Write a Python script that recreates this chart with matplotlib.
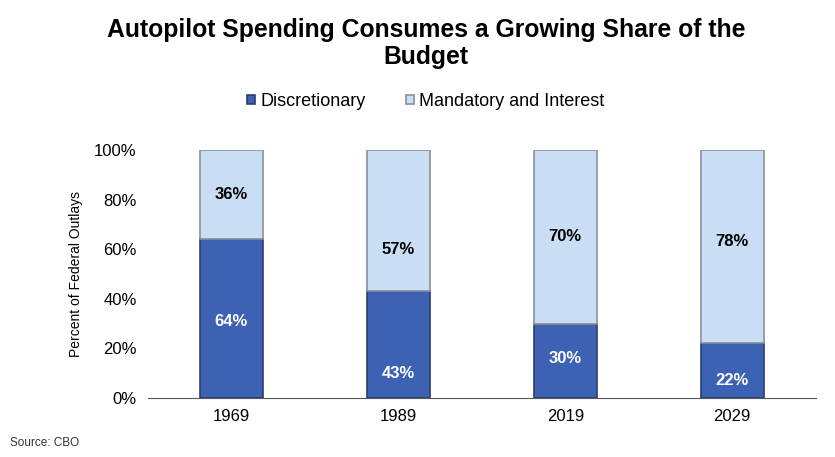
import matplotlib
matplotlib.use("Agg")
import matplotlib.pyplot as plt
import numpy as np

plt.rcParams["font.family"] = ["Liberation Sans", "DejaVu Sans"]

years = ["1969", "1989", "2019", "2029"]
discretionary = [64, 43, 30, 22]
mandatory = [36, 57, 70, 78]
# where the labels sit in the picture (percent units)
disc_label_y = [31, 10, 16, 7]
mand_label_y = [82, 60, 65, 63]

dark = "#3d62b3"
light = "#c9def4"

fig = plt.figure(figsize=(8.35, 4.57), dpi=100)
ax = fig.add_axes([0.177, 0.129, 0.8, 0.543])

x = np.arange(len(years))
w = 0.38
ax.bar(x, discretionary, width=w, color=dark, edgecolor="#2a3f70", linewidth=1.2,
       label="Discretionary")
ax.bar(x, mandatory, width=w, bottom=discretionary, color=light, edgecolor="#8a9099",
       linewidth=1.2, label="Mandatory and Interest")

for i in range(len(years)):
    ax.text(x[i], disc_label_y[i], "{}%".format(discretionary[i]), ha="center",
            va="center", color="white", fontsize=12, fontweight="bold")
    ax.text(x[i], mand_label_y[i], "{}%".format(mandatory[i]),
            ha="center", va="center", color="black", fontsize=12, fontweight="bold")

ax.set_xlim(-0.5, 3.5)
ax.set_ylim(0, 100)
ax.set_xticks(x)
ax.set_xticklabels(years, fontsize=12)
ax.set_yticks(range(0, 101, 20))
ax.set_yticklabels(["{}%".format(v) for v in range(0, 101, 20)], fontsize=12)
ax.tick_params(length=0, pad=8)
for s in ("top", "right", "left"):
    ax.spines[s].set_visible(False)
ax.spines["bottom"].set_color("#555555")
ax.set_ylabel("Percent of Federal Outlays", fontsize=10, labelpad=8)

fig.text(0.51, 0.905, "Autopilot Spending Consumes a Growing Share of the\nBudget",
         ha="center", va="center", fontsize=17.8, fontweight="bold", linespacing=1.2)
fig.legend(loc="center", bbox_to_anchor=(0.51, 0.778), ncol=2, frameon=False,
           fontsize=13, handlelength=0.45, handleheight=0.45, columnspacing=2.2,
           handletextpad=0.3)
fig.text(0.012, 0.025, "Source: CBO", fontsize=8.5, color="#333333")

fig.savefig("out.png", dpi=100)
